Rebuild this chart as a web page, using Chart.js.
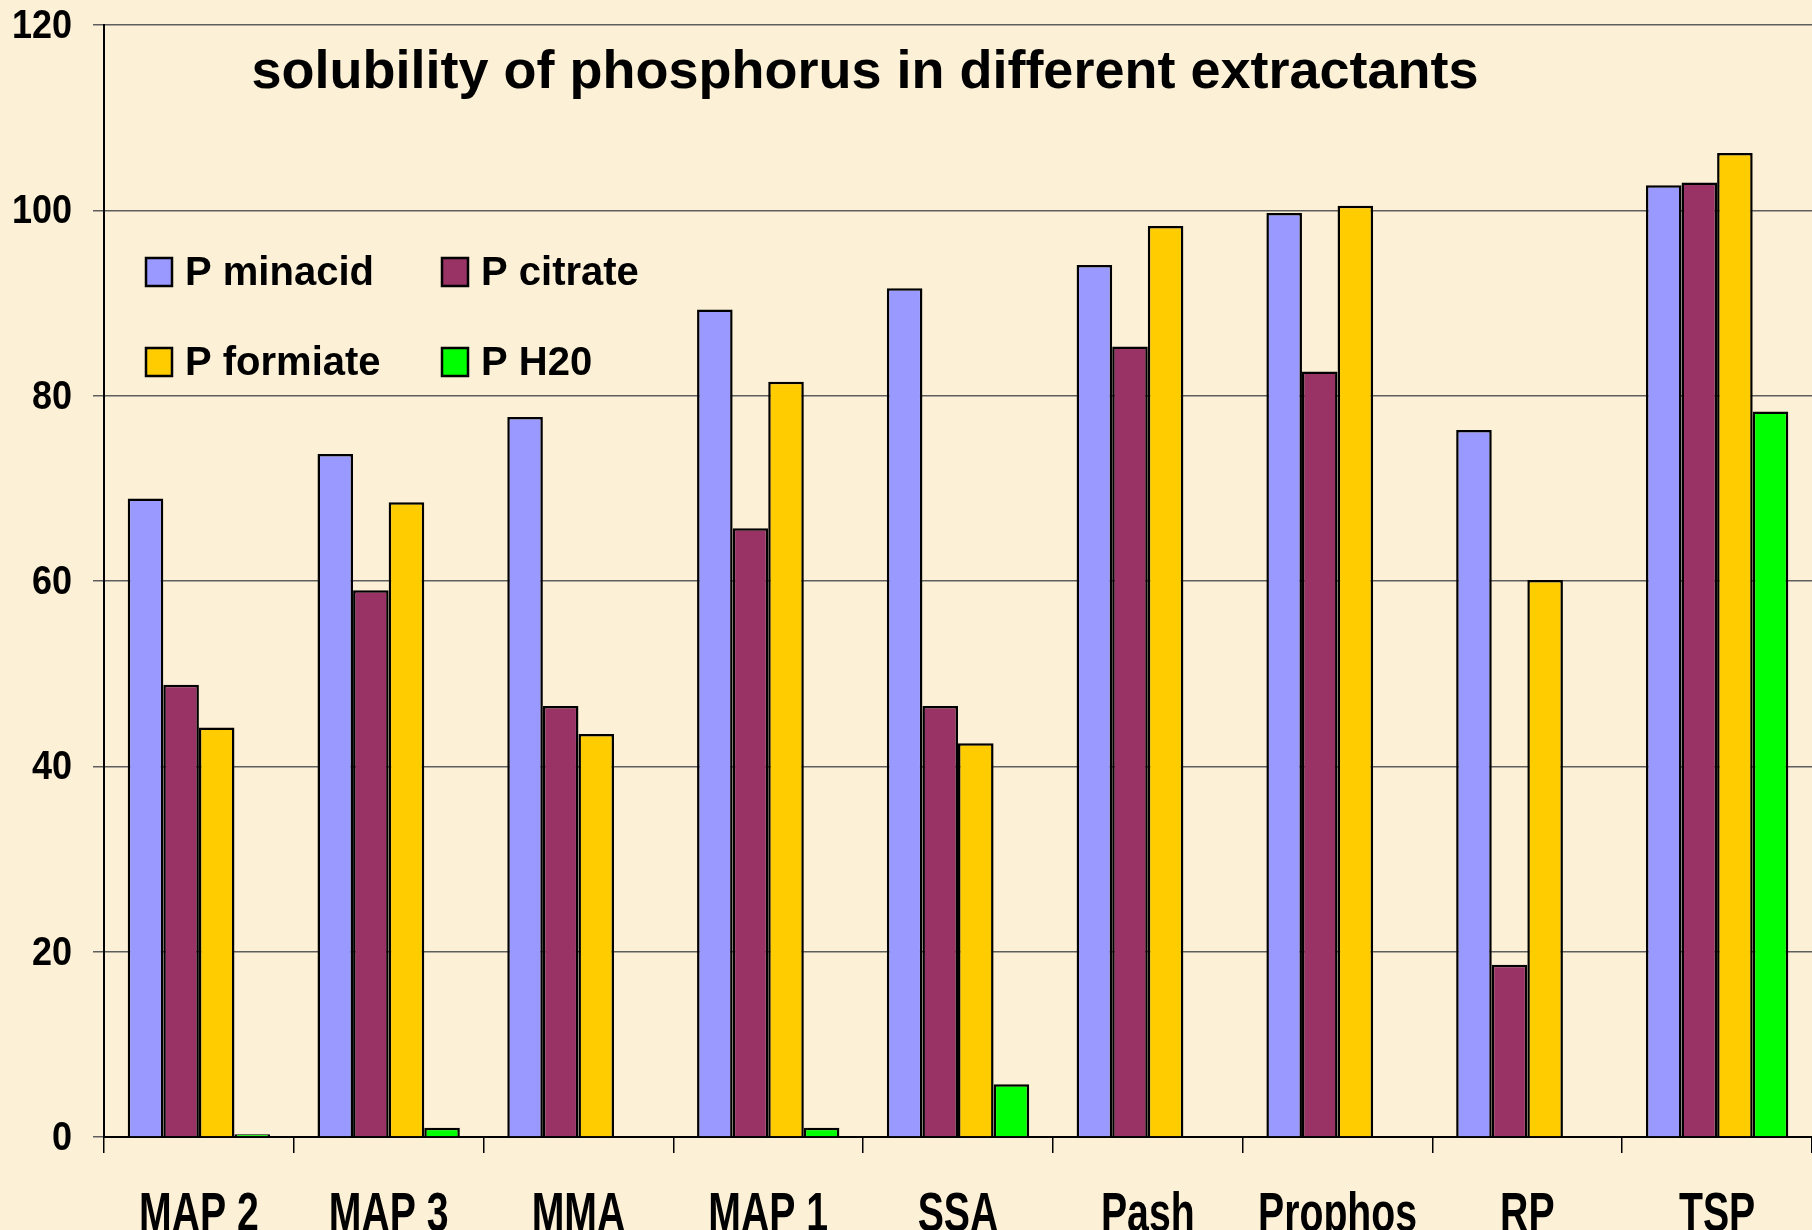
<!DOCTYPE html>
<html>
<head>
<meta charset="utf-8">
<style>
  html, body { margin: 0; padding: 0; background: #fcf1d6; overflow: hidden; }
  #wrap { width: 1812px; height: 1230px; }
</style>
<script src="https://cdn.jsdelivr.net/npm/chart.js@4/dist/chart.umd.min.js"></script>
</head>
<body>
<div id="wrap"><canvas id="myChart" width="1812" height="1230"></canvas></div>
<script>
// data
let categories = ['MAP 2','MAP 3','MMA','MAP 1','SSA','Pash','Prophos','RP','TSP'];
let pMinacid = [68.9, 73.7, 77.7, 89.3, 91.6, 94.1, 99.7, 76.3, 102.7];
let pCitrate = [48.8, 59.0, 46.5, 65.7, 46.5, 85.3, 82.6, 18.6, 103.0];
let pFormiate = [44.2, 68.5, 43.5, 81.5, 42.5, 98.3, 100.5, 60.1, 106.2];
let pH20 = [0.3, 1.0, 0, 1.0, 5.7, 0, 0, 0, 78.3];
let yTicks = [0, 20, 40, 60, 80, 100, 120];

let seriesNames = ['P minacid','P citrate','P formiate','P H20'];
let colors1 = ['#9999ff','#993366','#ffcc00','#00ff00'];

let fam = "'Liberation Sans', Arial, sans-serif";

// draw text squeezed sideways (the original uses a narrow face)
function narrowText(ctx, txt, x, y, sx, align) {
    ctx.save();
    ctx.translate(x, y);
    ctx.scale(sx, 1);
    ctx.textAlign = align;
    ctx.fillText(txt, 0, 0);
    ctx.restore();
}

// background, tick labels, title and the 2x2 legend inside the plot
const decor = {
    id: 'decor',
    beforeDraw(chart) {
        let ctx = chart.ctx;
        ctx.save();
        ctx.fillStyle = '#fcf1d6';
        ctx.fillRect(0, 0, chart.width, chart.height);
        ctx.restore();
    },
    afterDraw(chart) {
        let ctx = chart.ctx;
        let xs = chart.scales.x, ys = chart.scales.y;
        ctx.save();
        ctx.fillStyle = '#000';

        // y tick labels
        ctx.font = "bold 40px " + fam;
        ctx.textBaseline = 'middle';
        yTicks.forEach(function(v) {
            narrowText(ctx, String(v), 72, ys.getPixelForValue(v) + 2, 0.9, 'right');
        });

        // x tick labels
        ctx.font = "bold 56px " + fam;
        ctx.textBaseline = 'alphabetic';
        categories.forEach(function(c, i) {
            narrowText(ctx, c, xs.getPixelForTick(i), 1231, 0.7, 'center');
        });

        // title
        ctx.font = "bold 54px " + fam;
        ctx.textAlign = 'center';
        ctx.textBaseline = 'alphabetic';
        ctx.fillText('solubility of phosphorus in different extractants', 865, 88);

        // legend
        let boxX = [146, 442];
        let textX = [185, 481];
        let rowY = [272, 362];
        ctx.font = "bold 40px " + fam;
        ctx.textAlign = 'left';
        ctx.textBaseline = 'middle';
        chart.data.datasets.forEach(function(ds, i) {
            let c = i % 2, r = Math.floor(i / 2);
            ctx.fillStyle = ds.backgroundColor;
            ctx.strokeStyle = '#000';
            ctx.lineWidth = 2.5;
            ctx.fillRect(boxX[c], rowY[r] - 14, 26, 28);
            ctx.strokeRect(boxX[c], rowY[r] - 14, 26, 28);
            ctx.fillStyle = '#000';
            ctx.fillText(ds.label, textX[c], rowY[r] + 2);
        });
        ctx.restore();
    }
};

let datasets = [pMinacid, pCitrate, pFormiate, pH20].map(function(vals, i) {
    return {
        label: seriesNames[i],
        data: vals,
        backgroundColor: colors1[i],
        borderColor: '#000',
        borderWidth: 2.5,
        categoryPercentage: 0.75,
        barPercentage: 1.0
    };
});

let myChart = document.getElementById('myChart').getContext('2d');
let chart1 = new Chart(myChart, {
    type: 'bar',
    data: { labels: categories, datasets: datasets },
    plugins: [decor],
    options: {
        responsive: false,
        animation: false,
        layout: { padding: { top: 25, right: 0, left: 0, bottom: 0 } },
        plugins: {
            legend: { display: false },
            title: { display: false },
            tooltip: { enabled: false }
        },
        scales: {
            x: {
                offset: true,
                border: { display: true, color: '#000', width: 2 },
                grid: { display: true, offset: true, drawOnChartArea: false, drawTicks: true, tickLength: 16, color: '#000', lineWidth: 1.5 },
                ticks: { display: false },
                afterFit(scale) { scale.height = 93; }
            },
            y: {
                min: 0,
                max: 120,
                afterBuildTicks(scale) { scale.ticks = yTicks.map(function(v) { return { value: v }; }); },
                border: { display: true, color: '#000', width: 2 },
                grid: { color: '#5e5e5e', lineWidth: 1.5, tickLength: 11, drawTicks: true },
                ticks: { display: false },
                afterFit(scale) { scale.width = 104; }
            }
        }
    }
});
</script>
</body>
</html>
